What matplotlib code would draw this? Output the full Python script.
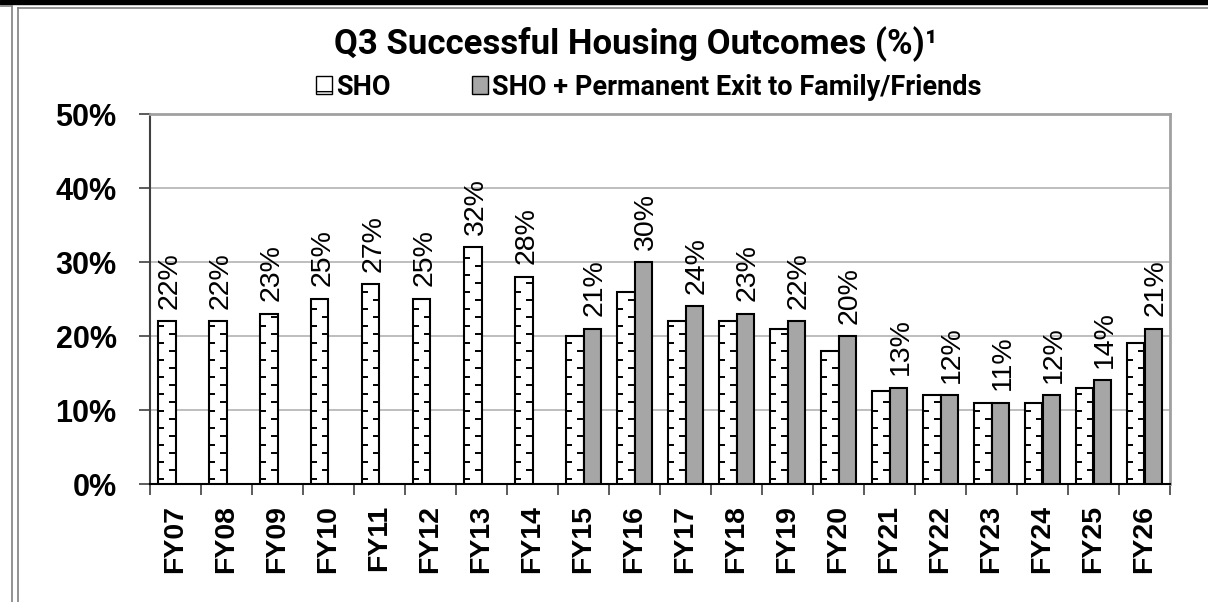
import numpy as np
import matplotlib
matplotlib.use('Agg')
import matplotlib.pyplot as plt
from matplotlib.lines import Line2D
from matplotlib.patches import Patch, Rectangle

# Q3 successful housing outcomes (%)
years = ['FY07', 'FY08', 'FY09', 'FY10', 'FY11', 'FY12', 'FY13', 'FY14', 'FY15', 'FY16',
         'FY17', 'FY18', 'FY19', 'FY20', 'FY21', 'FY22', 'FY23', 'FY24', 'FY25', 'FY26']
sho = [22, 22, 23, 25, 27, 25, 32, 28, 20, 26, 22, 22, 21, 18, 12.6, 12, 11, 11, 13, 19]
sho_plus = [np.nan, np.nan, np.nan, np.nan, np.nan, np.nan, np.nan, np.nan,
            21, 30, 24, 23, 22, 20, 13, 12, 11, 12, 14, 21]
yticks = [0, 10, 20, 30, 40, 50]

plt.rcParams['font.family'] = ['Liberation Sans', 'DejaVu Sans']
narrow = ['Roboto', 'Liberation Sans', 'DejaVu Sans']

W, H = 1208, 602
fig = plt.figure(figsize=(W / 100, H / 100), dpi=100)
ax = fig.add_axes([150 / W, 1 - 484 / H, 1020 / W, 370 / H])

x = np.arange(len(years))
sho = np.array(sho, dtype=float)
plus = np.array(sho_plus, dtype=float)
w = 0.34

ax.bar(x - w / 2, sho, w, color='white', edgecolor='black', linewidth=1.5, zorder=3)
has = ~np.isnan(plus)
ax.bar(x[has] + w / 2, plus[has], w, color='#a6a6a6', edgecolor='black', linewidth=1.5, zorder=3)

# dashed-horizontal fill pattern on the SHO bars
step = 1.15
dash = 0.36 * w
for xi, h in zip(x, sho):
    left, right = xi - w, xi
    for k, yy in enumerate(np.arange(0.7, h - 0.4, step)):
        if k % 2 == 0:
            ax.hlines(yy, left, left + dash, color='black', lw=1.4, zorder=4)
        else:
            ax.hlines(yy, right - dash, right, color='black', lw=1.4, zorder=4)

# value labels: on the SHO+ bar where present, else on SHO
for xi, s, p in zip(x, sho, plus):
    if np.isnan(p):
        xx, v = xi - w / 2, s
    else:
        xx, v = xi + w / 2, p
    ax.annotate(f'{v:.0f}%', (xx, v), xytext=(2, 9), textcoords='offset points',
                rotation=90, ha='center', va='bottom', fontsize=20.5, zorder=5)

ax.set_xlim(-0.5, len(years) - 0.5)
ax.set_ylim(0, 50)
ax.set_yticks(yticks)
ax.set_yticklabels([f'{v}%' for v in yticks], fontsize=22, fontweight='bold')
ax.tick_params(axis='y', length=8, width=1.2, pad=16, color='#404040')

ax.set_xticks(np.arange(-0.5, len(years), 1))
ax.set_xticklabels([])
ax.set_xticks(x, minor=True)
ax.set_xticklabels(years, minor=True, rotation=90, fontsize=20.5, fontweight='bold')
ax.tick_params(axis='x', which='major', length=8, width=1.2, color='#404040')
ax.tick_params(axis='x', which='minor', length=0, pad=15)

ax.yaxis.grid(True, color='#b3b3b3', lw=1.2)
ax.set_axisbelow(True)
ax.spines['left'].set_color('#404040')
ax.spines['left'].set_linewidth(1.5)
ax.spines['bottom'].set_color('black')
ax.spines['bottom'].set_linewidth(1.5)
for s in ['top', 'right']:
    ax.spines[s].set_color('#a0a0a0')
    ax.spines[s].set_linewidth(2)

fig.text(636 / W, 1 - 44 / H, 'Q3 Successful Housing Outcomes (%)\u00b9', ha='center', va='center',
         fontsize=25, fontweight='bold', family=narrow)

handles = [Patch(facecolor='white', edgecolor='black', hatch='-', lw=1),
           Patch(facecolor='#a6a6a6', edgecolor='black', lw=1)]
fig.legend(handles, ['SHO', 'SHO + Permanent Exit to Family/Friends'], loc='center',
           bbox_to_anchor=(649 / W, 1 - 87 / H), ncol=2, frameon=False,
           prop=dict(family=narrow, weight='bold', size=19.5),
           handlelength=0.6, handleheight=0.6, handletextpad=0.15, columnspacing=3.0)

# outer frame decorations
fig.add_artist(Rectangle((0, 1 - 4 / H), 1, 4 / H, transform=fig.transFigure, color='black'))
gray = '#808080'
fig.add_artist(Line2D([17.5 / W, 1], [1 - 7.5 / H, 1 - 7.5 / H], transform=fig.transFigure, color=gray, lw=1.2))
fig.add_artist(Line2D([17.5 / W, 17.5 / W], [1 - 7.5 / H, 0], transform=fig.transFigure, color=gray, lw=1.2))
fig.add_artist(Line2D([0, 11.5 / W], [1 - 6 / H, 1 - 6 / H], transform=fig.transFigure, color=gray, lw=1.2))
fig.add_artist(Line2D([11.5 / W, 11.5 / W], [1 - 6 / H, 0], transform=fig.transFigure, color=gray, lw=1.2))

fig.savefig('out.png', dpi=100)
